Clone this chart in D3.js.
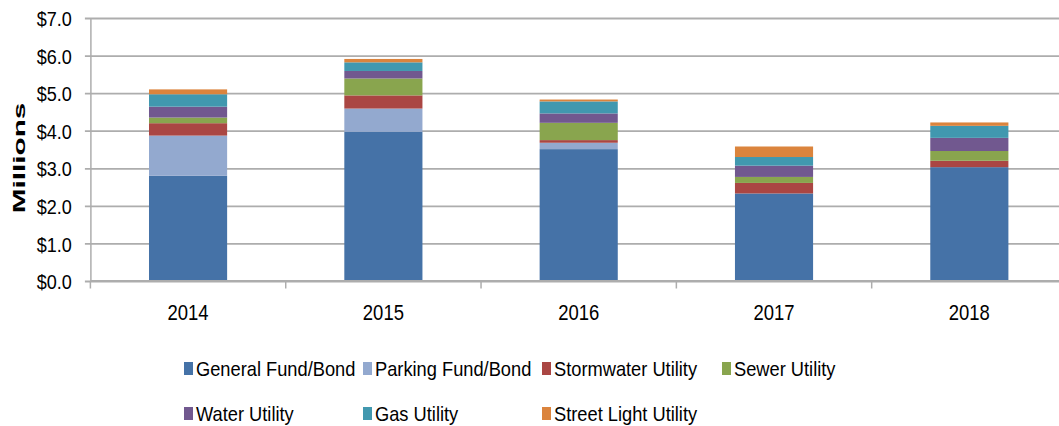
<!DOCTYPE html>
<html>
<head>
<meta charset="utf-8">
<script src="https://cdn.jsdelivr.net/npm/d3@7"></script>
<style>
  html, body { margin: 0; padding: 0; background: #fff; }
  svg { display: block; }
  text { font-family: "Liberation Sans", Arial, sans-serif; fill: #000; }
</style>
</head>
<body>
<svg id="chart" width="1059" height="426"></svg>
<script>
// Capital spending by funding source, in millions of dollars
const years = ["2014", "2015", "2016", "2017", "2018"];
const seriesNames = ["General Fund/Bond", "Parking Fund/Bond", "Stormwater Utility",
  "Sewer Utility", "Water Utility", "Gas Utility", "Street Light Utility"];
const seriesKeys = ["general", "parking", "stormwater", "sewer", "water", "gas", "streetLight"];
const seriesColors = ["#4572A7", "#93A9CF", "#AA4643", "#89A54E", "#71588F", "#4198AF", "#DB843D"];

const generalFund = [2.80, 3.97, 3.51, 2.33, 3.03];
const parkingFund = [1.07, 0.62, 0.17, 0.00, 0.00];
const stormwater  = [0.33, 0.35, 0.07, 0.28, 0.17];
const sewer       = [0.15, 0.45, 0.46, 0.16, 0.26];
const water       = [0.29, 0.20, 0.25, 0.30, 0.35];
const gas         = [0.33, 0.23, 0.32, 0.23, 0.32];
const streetLight = [0.13, 0.09, 0.05, 0.28, 0.09];

const yTicks = [0, 1, 2, 3, 4, 5, 6, 7];
const yTickLabels = ["$0.0", "$1.0", "$2.0", "$3.0", "$4.0", "$5.0", "$6.0", "$7.0"];
const yTitle = "Millions";

const rows = years.map((yr, i) => ({
  year: yr,
  general: generalFund[i], parking: parkingFund[i], stormwater: stormwater[i],
  sewer: sewer[i], water: water[i], gas: gas[i], streetLight: streetLight[i]
}));

const svg = d3.select("#chart");
const plot = { left: 90.4, right: 1067, top: 18, bottom: 281 };
const gridColor = "#ADADAD";

const x = d3.scaleBand().domain(years).range([plot.left, plot.right])
  .paddingInner(0.6).paddingOuter(0.3);
const y = d3.scaleLinear().domain([0, 7]).range([plot.bottom, plot.top]);
const color = d3.scaleOrdinal().domain(seriesKeys).range(seriesColors);

// horizontal gridlines and y axis
const yAxis = d3.axisLeft(y).tickValues(yTicks)
  .tickFormat((d, i) => yTickLabels[i])
  .tickSize(-(plot.right - plot.left)).tickSizeOuter(0).tickPadding(0);
const gy = svg.append("g").attr("transform", `translate(${plot.left},0)`).call(yAxis);
gy.select(".domain").attr("stroke", gridColor).attr("stroke-width", 1.5);
gy.selectAll(".tick line").attr("stroke", gridColor).attr("stroke-width", 1.8).attr("x2", 1100).attr("x1", -5.5);
gy.selectAll(".tick text").remove();
gy.selectAll(".tick").append("text")
  .attr("transform", "translate(-18.5,0) scale(0.86,1)")
  .attr("text-anchor", "end").attr("dy", "0.36em")
  .style("font-size", "21px")
  .text((d, i) => yTickLabels[i]);

// stacked bars
const stacked = d3.stack().keys(seriesKeys)(rows);
svg.append("g").selectAll("g").data(stacked).join("g")
  .attr("fill", d => color(d.key))
  .selectAll("rect").data(d => d).join("rect")
  .attr("x", d => x(d.data.year))
  .attr("width", x.bandwidth())
  .attr("y", d => y(d[1]))
  .attr("height", d => Math.max(0, y(d[0]) - y(d[1])));

// x axis with tick marks between categories
const boundaries = d3.range(years.length + 1).map(i => plot.left + i * x.step());
svg.append("line").attr("x1", plot.left).attr("x2", 1100)
  .attr("y1", plot.bottom).attr("y2", plot.bottom)
  .attr("stroke", gridColor).attr("stroke-width", 1.8);
svg.append("g").selectAll("line").data(boundaries).join("line")
  .attr("x1", d => d).attr("x2", d => d)
  .attr("y1", plot.bottom).attr("y2", plot.bottom + 7.5)
  .attr("stroke", gridColor).attr("stroke-width", 1.5);
svg.append("g").selectAll("text").data(years).join("text")
  .attr("transform", d => `translate(${x(d) + x.bandwidth() / 2},319.5) scale(0.84,1)`)
  .attr("text-anchor", "middle")
  .style("font-size", "22px")
  .text(d => d);

// y axis title
svg.append("text")
  .attr("transform", "translate(24.5,158) rotate(-90) scale(1.86,1)")
  .attr("text-anchor", "middle")
  .style("font-size", "16px").style("font-weight", "bold")
  .text(yTitle);

// legend, two rows
const legendCols = [184, 363, 542, 722];
const legendItems = seriesNames.map((name, i) => ({
  name, key: seriesKeys[i],
  col: i < 4 ? i : i - 4,
  row: i < 4 ? 0 : 1
}));
const legendRowY = [368.5, 413.5];
const lg = svg.append("g").selectAll("g").data(legendItems).join("g")
  .attr("transform", d => `translate(${legendCols[d.col]},${legendRowY[d.row]})`);
lg.append("rect").attr("x", 0).attr("y", -6.5).attr("width", 9).attr("height", 13)
  .attr("fill", d => color(d.key));
lg.append("text")
  .attr("transform", "translate(12,0) scale(0.87,1)")
  .attr("dy", "0.36em")
  .style("font-size", "21px")
  .text(d => d.name);
</script>
</body>
</html>
